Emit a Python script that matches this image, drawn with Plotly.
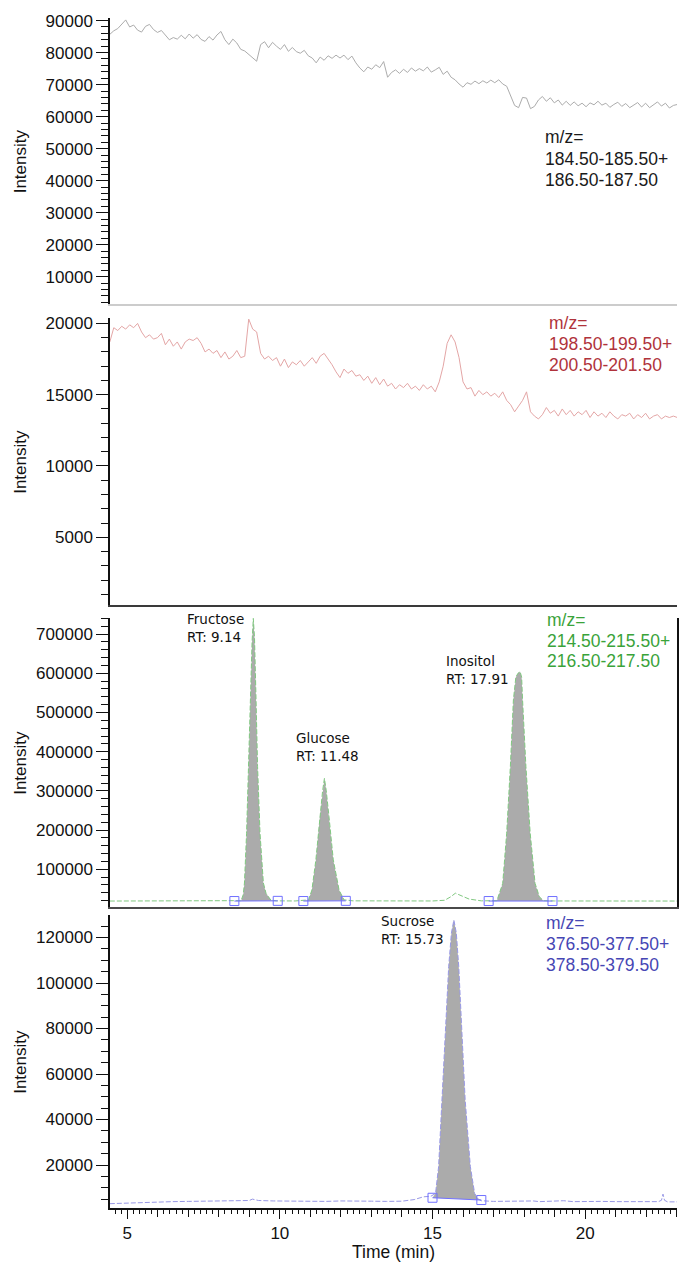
import plotly.graph_objects as go

# ---------------- data ----------------
# sampling times (min) for the two noisy traces
time_grid = [4.43, 4.56, 4.69, 4.82, 4.95, 5.08, 5.21, 5.34, 5.47, 5.60,
             5.73, 5.86, 5.99, 6.12, 6.25, 6.38, 6.51, 6.64, 6.77, 6.90,
             7.03, 7.16, 7.29, 7.42, 7.55, 7.68, 7.81, 7.94, 8.07, 8.20,
             8.33, 8.46, 8.59, 8.72, 8.85, 8.98, 9.11, 9.24, 9.37, 9.50,
             9.63, 9.76, 9.89, 10.02, 10.15, 10.28, 10.41, 10.54, 10.67, 10.80,
             10.93, 11.06, 11.19, 11.32, 11.45, 11.58, 11.71, 11.84, 11.97, 12.10,
             12.23, 12.36, 12.49, 12.62, 12.75, 12.88, 13.01, 13.14, 13.27, 13.40,
             13.53, 13.66, 13.79, 13.92, 14.05, 14.18, 14.31, 14.44, 14.57, 14.70,
             14.83, 14.96, 15.09, 15.22, 15.35, 15.48, 15.61, 15.74, 15.87, 16.00,
             16.13, 16.26, 16.39, 16.52, 16.65, 16.78, 16.91, 17.04, 17.17, 17.30,
             17.43, 17.56, 17.69, 17.82, 17.95, 18.08, 18.21, 18.34, 18.47, 18.60,
             18.73, 18.86, 18.99, 19.12, 19.25, 19.38, 19.51, 19.64, 19.77, 19.90,
             20.03, 20.16, 20.29, 20.42, 20.55, 20.68, 20.81, 20.94, 21.07, 21.20,
             21.33, 21.46, 21.59, 21.72, 21.85, 21.98, 22.11, 22.24, 22.37, 22.50,
             22.63, 22.76, 22.89, 23.02]

# m/z 184.5-185.5 + 186.5-187.5
mz185_int = [85700, 86800, 87500, 89000, 90200, 88000, 88600, 87000, 86400, 88200,
             88800, 87200, 86300, 86900, 85300, 84000, 84700, 84200, 85400, 84300,
             85800, 84500, 85600, 84100, 83500, 85000, 83900, 85500, 86600, 84000,
             82500, 84200, 83000, 81000, 80500, 79500, 78200, 77300, 82500, 83400,
             81500, 83200, 82000, 81000, 82500, 80400, 81600, 80300, 79800, 80700,
             79000, 78300, 76800, 78600, 77600, 79000, 78200, 79200, 78300, 79200,
             77800, 78900, 76800, 75200, 74000, 75500, 74800, 76200, 75300, 77200,
             72300, 73800, 74600, 73500, 74800, 73800, 75200, 74200, 75000, 74300,
             75500, 73900, 74600, 75400, 73200, 74200, 72300, 71500, 70200, 69200,
             70600, 70100, 71100, 70300, 71200, 70500, 71400, 70600, 71500, 70200,
             69500, 66500, 63500, 62800, 66000, 65800, 62500, 63200, 65200, 66300,
             64800, 65900, 64300, 65200, 63600, 64800, 63500, 64600, 63400, 64200,
             63100, 64300, 63700, 64800, 63600, 64200, 62900, 63800, 64500, 63200,
             64100, 62800, 63600, 64400, 63000, 64200, 62800, 63700, 64600, 63300,
             64200, 62700, 63500, 63800]

# m/z 198.5-199.5 + 200.5-201.5
mz199_int = [18700, 19700, 19500, 19800, 19600, 19900, 19700, 20000, 19400, 19000,
             19200, 18900, 19000, 19300, 18500, 18900, 18400, 18700, 18200, 18700,
             18900, 18800, 19000, 18600, 18000, 18200, 17900, 18100, 17600, 18000,
             17500, 17700, 18100, 17600, 17700, 20300, 19600, 19400, 17900, 17500,
             17700, 17400, 17600, 17000, 17500, 16900, 17300, 17100, 17400, 17000,
             17300, 17600, 17200, 17700, 17900, 17500, 17100, 16600, 16200, 16800,
             16500, 16700, 16300, 16400, 16000, 16300, 15800, 16200, 15700, 16100,
             15600, 15800, 15400, 15700, 15500, 15800, 15400, 15600, 15300, 15700,
             15400, 15600, 15200, 15900, 17000, 18600, 19200, 18700, 17600, 15900,
             15400, 15500, 14900, 15300, 15000, 15200, 14900, 15100, 14800, 15200,
             14600, 14300, 13800, 14200, 14600, 15200, 13800, 13500, 13300, 13600,
             14100, 13700, 13900, 13500, 14000, 13600, 13900, 13500, 13800, 13600,
             13900, 13400, 13800, 13500, 13700, 13400, 13800, 13500, 13300, 13600,
             13500, 13700, 13300, 13600, 13400, 13700, 13300, 13500, 13600, 13300,
             13500, 13400, 13500, 13400]

# m/z 214.5-215.5 + 216.5-217.5 (monosaccharides)
mz215_time = [4.43, 6.0, 7.5, 8.5, 8.73, 8.80, 8.84, 8.91, 8.97, 9.03, 9.09, 9.13,
              9.17, 9.22, 9.27, 9.35, 9.46, 9.55, 9.71, 9.9, 10.5, 10.94, 11.05,
              11.18, 11.31, 11.40, 11.46, 11.52, 11.61, 11.75, 11.94, 12.1, 12.4,
              13.5, 15.0, 15.4, 15.6, 15.75, 15.95, 16.2, 16.6, 17.0, 17.11, 17.30,
              17.43, 17.55, 17.65, 17.73, 17.80, 17.87, 17.92, 17.95, 18.06, 18.2,
              18.36, 18.5, 18.63, 19.0, 21.0, 23.02]
mz215_int = [19000, 19200, 19000, 19300, 20000, 35000, 65000, 192000, 362000, 532000,
             680000, 740000, 690000, 532000, 362000, 192000, 65000, 38000, 21000,
             19500, 19200, 22000, 47000, 124000, 234000, 300000, 332000, 300000,
             234000, 124000, 47000, 22000, 19500, 19000, 19200, 21000, 30000, 39000,
             33000, 24000, 19500, 19500, 20000, 64000, 192000, 362000, 532000,
             590000, 600000, 604000, 590000, 532000, 362000, 192000, 64000, 30000,
             20000, 19200, 19000, 19000]

# m/z 376.5-377.5 + 378.5-379.5 (sucrose)
mz377_time = [4.43, 5.0, 5.5, 6.0, 6.5, 7.0, 7.5, 8.0, 8.5, 9.0, 9.1, 9.3, 9.8, 10.5,
              11.0, 11.5, 12.0, 12.5, 13.0, 13.5, 14.0, 14.4, 14.7, 14.95, 15.1,
              15.2, 15.32, 15.42, 15.53, 15.62, 15.70, 15.78, 15.86, 15.96, 16.07,
              16.24, 16.38, 16.5, 16.6, 17.0, 17.5, 18.0, 18.3, 18.5, 19.0, 19.3,
              19.6, 20.0, 20.5, 21.0, 21.5, 22.0, 22.4, 22.5, 22.55, 22.6, 22.7, 23.02]
mz377_int = [3000, 3300, 3600, 3700, 3900, 4000, 4100, 4000, 4200, 4400, 5000, 4400,
             4200, 4000, 4100, 4000, 4200, 4000, 4100, 4000, 4100, 4800, 6000, 6300,
             7500, 19300, 48600, 77900, 107200, 122000, 127700, 122000, 107200, 77900,
             48600, 19300, 7500, 5000, 4300, 4000, 4100, 3900, 4200, 3900, 4000, 4300,
             3900, 3800, 4000, 3900, 3800, 3900, 3900, 4500, 7200, 4500, 3800, 3800]

# integration windows (start/end time, baseline intensity at each end)
mz215_peak_names = ["Fructose", "Glucose", "Inositol"]
mz215_peak_rt = ["9.14", "11.48", "17.91"]
mz215_win_start = [8.51, 10.77, 16.84]
mz215_win_end = [9.93, 12.16, 18.93]
mz215_base_start = [19000, 19000, 19000]
mz215_base_end = [19500, 19500, 19000]
mz215_label_t = [6.88, 10.47, 15.37]
mz215_label_y = [715000, 412000, 608000]

mz377_peak_names = ["Sucrose"]
mz377_peak_rt = ["15.73"]
mz377_win_start = [15.0]
mz377_win_end = [16.6]
mz377_base_start = [5600]
mz377_base_end = [4600]
mz377_label_t = [13.25]
mz377_label_y = [123300]

mz_labels = [["m/z=", "184.50-185.50+", "186.50-187.50"],
             ["m/z=", "198.50-199.50+", "200.50-201.50"],
             ["m/z=", "214.50-215.50+", "216.50-217.50"],
             ["m/z=", "376.50-377.50+", "378.50-379.50"]]

# ---------------- styling ----------------
TXT = "Liberation Sans, Arial, sans-serif"
PK = "DejaVu Sans, sans-serif"
X_RANGE = [4.436, 23.009]
label_colors = ["#1a1a1a", "#b0333b", "#3aa33a", "#4646b4"]
trace_colors = ["#acacac", "#e4a6a6", "#80c880", "#9898e6"]
FILL = "#ababab"
BOX = "#7070ff"

fig = go.Figure()

fig.add_trace(go.Scatter(x=time_grid, y=mz185_int, mode="lines",
                         line=dict(color=trace_colors[0], width=1),
                         xaxis="x4", yaxis="y4", showlegend=False))
fig.add_trace(go.Scatter(x=time_grid, y=mz199_int, mode="lines",
                         line=dict(color=trace_colors[1], width=1),
                         xaxis="x3", yaxis="y3", showlegend=False))


def add_peaks(ts, vs, starts, ends, b0s, b1s, xa, ya):
    for s, e, b0, b1 in zip(starts, ends, b0s, b1s):
        sel = [(t, v) for t, v in zip(ts, vs) if s < t < e]
        xs = [s] + [p[0] for p in sel] + [e]
        ys = [b0] + [p[1] for p in sel] + [b1]
        fig.add_trace(go.Scatter(x=xs, y=ys, mode="lines", fill="toself",
                                 fillcolor=FILL, line=dict(width=0),
                                 xaxis=xa, yaxis=ya, showlegend=False,
                                 hoverinfo="skip"))


def add_windows(starts, ends, b0s, b1s, xa, ya):
    for s, e, b0, b1 in zip(starts, ends, b0s, b1s):
        fig.add_trace(go.Scatter(x=[s, e], y=[b0, b1], mode="lines+markers",
                                 line=dict(color=BOX, width=1),
                                 marker=dict(symbol="square-open", size=9,
                                             color=BOX, line=dict(width=1)),
                                 xaxis=xa, yaxis=ya, showlegend=False))


add_peaks(mz215_time, mz215_int, mz215_win_start, mz215_win_end,
          mz215_base_start, mz215_base_end, "x2", "y2")
fig.add_trace(go.Scatter(x=mz215_time, y=mz215_int, mode="lines",
                         line=dict(color=trace_colors[2], width=1, dash="5px,2px"),
                         xaxis="x2", yaxis="y2", showlegend=False))
add_windows(mz215_win_start, mz215_win_end, mz215_base_start, mz215_base_end, "x2", "y2")

add_peaks(mz377_time, mz377_int, mz377_win_start, mz377_win_end,
          mz377_base_start, mz377_base_end, "x", "y")
fig.add_trace(go.Scatter(x=mz377_time, y=mz377_int, mode="lines",
                         line=dict(color=trace_colors[3], width=1, dash="5px,2px"),
                         xaxis="x", yaxis="y", showlegend=False))
add_windows(mz377_win_start, mz377_win_end, mz377_base_start, mz377_base_end, "x", "y")

# ---------------- layout ----------------
H, W = 1264, 681
MT, MB, ML, MR = 18, 56, 110, 2
plot_h = H - MT - MB


def dom(top_px, bot_px):
    return [(H - MB - bot_px) / plot_h, (H - MB - top_px) / plot_h]


panel_px = [(18, 304), (318, 605), (618, 907), (915, 1208)]
y_ranges = [[1500, 90800], [250, 20380], [3800, 741000], [1100, 129900]]
y_dticks = [10000, 5000, 100000, 20000]
y_minor = [2000, 1000, 20000, 5000]
xline_colors = ["#cccccc", "#3a3a3a", "#4a4a4a", "#111111"]

layout = dict(width=W, height=H, margin=dict(l=ML, r=MR, t=MT, b=MB),
              plot_bgcolor="white", paper_bgcolor="white", showlegend=False,
              font=dict(family=TXT, size=17, color="#111"))

for i in range(4):
    yname = "yaxis" if i == 3 else "yaxis%d" % (4 - i)
    xname = "xaxis" if i == 3 else "xaxis%d" % (4 - i)
    xref = "x" if i == 3 else "x%d" % (4 - i)
    yref = "y" if i == 3 else "y%d" % (4 - i)
    layout[yname] = dict(domain=dom(*panel_px[i]), range=y_ranges[i], anchor=xref,
                         dtick=y_dticks[i], tick0=0, tickformat="d",
                         showline=True, linecolor="#111", linewidth=1.5,
                         mirror=(i == 2),
                         ticks="outside", ticklen=12, tickwidth=1, tickcolor="#111",
                         minor=dict(dtick=y_minor[i], tick0=0, ticks="outside",
                                    ticklen=7, tickcolor="#111", tickwidth=1),
                         showgrid=False, zeroline=False,
                         tickfont=dict(family=TXT, size=17, color="#111"))
    xa = dict(range=X_RANGE, anchor=yref, showgrid=False, zeroline=False,
              showline=True, linecolor=xline_colors[i], linewidth=2)
    if i < 3:
        xa.update(matches="x", showticklabels=False, ticks="")
    else:
        xa.update(tickvals=list(range(5, 24)), ticktext=[""] * 19,
                  ticks="outside", ticklen=7, tickwidth=1, tickcolor="#111",
                  minor=dict(dtick=0.2, tick0=0, ticks="outside", ticklen=4,
                             tickcolor="#111", tickwidth=1))
    layout[xname] = xa

# labelled ticks overlay (longer ticks at 5,10,15,20)
layout["xaxis5"] = dict(range=X_RANGE, overlaying="x", anchor="y", side="bottom",
                        tickvals=[5, 10, 15, 20], ticks="outside", ticklen=10,
                        tickwidth=1, tickcolor="#111", showline=False,
                        showgrid=False, zeroline=False,
                        tickfont=dict(family=TXT, size=17, color="#111"))
fig.add_trace(go.Scatter(x=[X_RANGE[0]], y=[None], xaxis="x5", yaxis="y",
                         mode="lines", showlegend=False, hoverinfo="skip"))

fig.update_layout(**layout)

ann = []
# y titles
for i in range(4):
    top, bot = panel_px[i]
    ann.append(dict(text="Intensity", xref="paper", yref="paper",
                    x=(20 - ML) / (W - ML - MR), y=(H - MB - (top + bot) / 2) / plot_h,
                    textangle=-90, showarrow=False, xanchor="center", yanchor="middle",
                    font=dict(family=TXT, size=17, color="#111")))
# x title
ann.append(dict(text="Time (min)", xref="paper", yref="paper", x=0.5,
                y=(H - MB - 1252) / plot_h, showarrow=False, xanchor="center",
                yanchor="middle", font=dict(family=TXT, size=17.5, color="#111")))

# m/z labels
mz_pos_x = [0.763, 0.7715, 0.768, 0.766]
mz_pos_y = [[0.584, 0.507, 0.434], [0.983, 0.909, 0.836],
            [0.993, 0.920, 0.851], [0.973, 0.901, 0.829]]
for i in range(4):
    xr = ("x" if i == 3 else "x%d" % (4 - i)) + " domain"
    yr = ("y" if i == 3 else "y%d" % (4 - i)) + " domain"
    for j, line in enumerate(mz_labels[i]):
        ann.append(dict(text=line, xref=xr, yref=yr, x=mz_pos_x[i], y=mz_pos_y[i][j],
                        showarrow=False, xanchor="left", yanchor="middle",
                        font=dict(family=TXT, size=17.5, color=label_colors[i])))

# peak labels
for name, rt, lt, ly in zip(mz215_peak_names, mz215_peak_rt, mz215_label_t, mz215_label_y):
    ann.append(dict(text=name + "<br>RT: " + rt, xref="x2", yref="y2", x=lt, y=ly,
                    showarrow=False, xanchor="left", yanchor="middle", align="left",
                    font=dict(family=PK, size=13.5, color="#111")))
for name, rt, lt, ly in zip(mz377_peak_names, mz377_peak_rt, mz377_label_t, mz377_label_y):
    ann.append(dict(text=name + "<br>RT: " + rt, xref="x", yref="y", x=lt, y=ly,
                    showarrow=False, xanchor="left", yanchor="middle", align="left",
                    font=dict(family=PK, size=13.5, color="#111")))

fig.update_layout(annotations=ann)
fig.write_html("out.html")
